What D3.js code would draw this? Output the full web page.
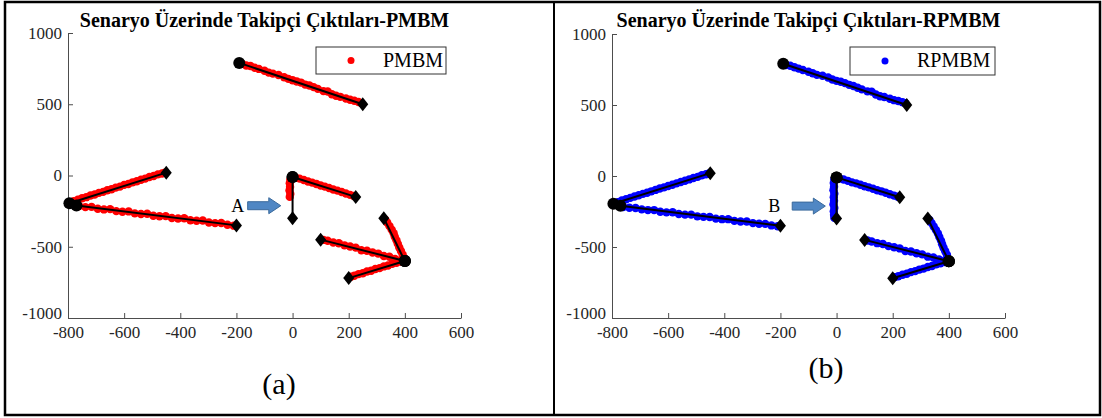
<!DOCTYPE html>
<html>
<head>
<meta charset="utf-8">
<script src="https://cdn.jsdelivr.net/npm/d3@7"></script>
<style>
  body { margin: 0; background: #fff; }
  svg text { font-family: "Liberation Serif", "DejaVu Serif", "Times New Roman", serif !important; }
</style>
</head>
<body>
<script>
// ground truth tracks: [birth, death]
var truthTracks = [
  [[-190, 790], [250, 500]],
  [[-795, -195], [-450, 20]],
  [[-770, -210], [-200, -350]],
  [[0, -10], [225, -150]],
  [[0, -10], [0, -300]],
  [[400, -600], [325, -300]],
  [[400, -600], [100, -450]],
  [[400, -600], [200, -720]]
];

// PMBM estimates
var pmbmA = [[-180,785],[-165,772],[-150,768],[-135,756],[-120,748],[-100,735],[-85,722],[-70,715],[-50,705],[-30,690],[-15,678],[0,668],[15,660],[30,652],[45,638],[60,632],[75,620],[90,608],[110,592],[125,590],[140,570],[155,560],[170,552],[190,540],[205,532],[220,525],[235,516],[245,508]];
var pmbmB = [[-780,-180],[-765,-170],[-750,-160],[-735,-152],[-720,-140],[-705,-133],[-690,-122],[-675,-115],[-660,-104],[-645,-96],[-630,-85],[-615,-78],[-600,-66],[-585,-60],[-570,-48],[-555,-40],[-540,-30],[-525,-22],[-510,-10],[-495,-4],[-480,8],[-465,14],[-455,20]];
var pmbmC = [[-760,-215],[-738,-222],[-716,-220],[-694,-233],[-672,-238],[-650,-236],[-628,-250],[-606,-254],[-584,-252],[-562,-266],[-540,-270],[-518,-268],[-496,-282],[-474,-286],[-452,-285],[-430,-298],[-408,-302],[-386,-300],[-364,-314],[-342,-318],[-320,-316],[-298,-330],[-276,-334],[-254,-333],[-232,-346],[-210,-352]];
var pmbmD = [[10,-14],[25,-22],[40,-32],[55,-42],[70,-50],[85,-60],[100,-70],[115,-78],[130,-88],[145,-98],[160,-106],[175,-116],[190,-126],[205,-136],[218,-144]];
var pmbmE = [[-8,-30],[-10,-55],[-9,-80],[-11,-105],[-8,-130],[-10,-150]];
var pmbmF = [[398,-580],[392,-555],[386,-530],[380,-505],[375,-480],[370,-455],[364,-430],[360,-405],[353,-380],[345,-355],[337,-330],[330,-310]];
var pmbmG = [[385,-595],[365,-585],[345,-570],[325,-565],[305,-548],[285,-540],[265,-528],[245,-525],[225,-506],[205,-498],[185,-490],[165,-475],[145,-470],[125,-458],[110,-452]];
var pmbmH = [[385,-604],[370,-612],[355,-620],[340,-632],[325,-638],[310,-650],[295,-656],[280,-668],[265,-674],[250,-686],[235,-692],[220,-704],[208,-710]];

// RPMBM estimates
var rpmbmA = [[-180,782],[-165,776],[-150,766],[-135,756],[-120,746],[-100,734],[-85,724],[-70,712],[-50,706],[-30,694],[-15,680],[0,670],[15,664],[30,654],[45,642],[60,634],[75,622],[90,610],[110,596],[125,594],[140,574],[155,562],[170,556],[190,544],[205,534],[220,528],[235,520],[245,512]];
var rpmbmB = [[-780,-184],[-765,-172],[-750,-164],[-735,-154],[-720,-144],[-705,-136],[-690,-126],[-675,-118],[-660,-108],[-645,-98],[-630,-88],[-615,-80],[-600,-70],[-585,-62],[-570,-52],[-555,-42],[-540,-33],[-525,-24],[-510,-14],[-495,-6],[-480,5],[-465,12],[-455,18]];
var rpmbmC = [[-760,-218],[-738,-224],[-716,-225],[-694,-235],[-672,-240],[-650,-240],[-628,-252],[-606,-256],[-584,-255],[-562,-268],[-540,-272],[-518,-272],[-496,-284],[-474,-288],[-452,-289],[-430,-300],[-408,-304],[-386,-304],[-364,-316],[-342,-320],[-320,-320],[-298,-332],[-276,-336],[-254,-337],[-232,-348],[-210,-354]];
var rpmbmD = [[10,-18],[25,-25],[40,-34],[55,-45],[70,-52],[85,-62],[100,-72],[115,-80],[130,-90],[145,-100],[160,-108],[175,-118],[190,-128],[205,-138],[218,-146]];
var rpmbmE = [[-8,-25],[-10,-50],[-9,-75],[-11,-100],[-8,-125],[-10,-150],[-9,-175],[-11,-200],[-8,-225],[-10,-250],[-9,-275],[-8,-295]];
var rpmbmF = [[397,-580],[393,-555],[387,-530],[381,-505],[376,-480],[372,-455],[366,-430],[361,-405],[354,-380],[346,-355],[338,-330],[331,-310]];
var rpmbmG = [[385,-597],[365,-588],[345,-574],[325,-568],[305,-552],[285,-544],[265,-532],[245,-528],[225,-510],[205,-502],[185,-494],[165,-479],[145,-473],[125,-461],[110,-454]];
var rpmbmH = [[385,-606],[370,-614],[355,-622],[340,-634],[325,-641],[310,-652],[295,-659],[280,-670],[265,-677],[250,-688],[235,-695],[220,-706],[208,-712]];

var xTicks = [-800, -600, -400, -200, 0, 200, 400, 600];
var yTicks = [-1000, -500, 0, 500, 1000];

var serif = "'Liberation Serif', 'DejaVu Serif', serif";

var svg = d3.select("body").append("svg")
  .attr("width", 1102)
  .attr("height", 418)
  .attr("font-family", serif);

// outer frame + divider
svg.append("rect")
  .attr("x", 5).attr("y", 2).attr("width", 1095).attr("height", 413)
  .attr("fill", "none").attr("stroke", "#000").attr("stroke-width", 2.5);
svg.append("line")
  .attr("x1", 554).attr("x2", 554).attr("y1", 2).attr("y2", 415)
  .attr("stroke", "#000").attr("stroke-width", 2);

drawPanel({
  left: 68, right: 461, top: 33, bottom: 318,
  title: "Senaryo Üzerinde Takipçi Çıktıları-PMBM",
  name: "PMBM", color: "#ff0000",
  estimates: [pmbmA, pmbmB, pmbmC, pmbmD, pmbmE, pmbmF, pmbmG, pmbmH],
  legend: {x: 316, y: 47, w: 130, h: 27},
  note: "A", noteX: -195, arrowX0: -160, arrowX1: -42,
  caption: "(a)", capX: 279, capY: 394
});

drawPanel({
  left: 612, right: 1005, top: 34, bottom: 318,
  title: "Senaryo Üzerinde Takipçi Çıktıları-RPMBM",
  name: "RPMBM", color: "#0000ff",
  estimates: [rpmbmA, rpmbmB, rpmbmC, rpmbmD, rpmbmE, rpmbmF, rpmbmG, rpmbmH],
  legend: {x: 850, y: 47, w: 145, h: 28},
  note: "B", noteX: -222, arrowX0: -158, arrowX1: -40,
  caption: "(b)", capX: 826, capY: 378
});

function drawPanel(p) {
  var x = d3.scaleLinear().domain([-800, 600]).range([p.left, p.right]);
  var y = d3.scaleLinear().domain([-1000, 1000]).range([p.bottom, p.top]);
  var g = svg.append("g");

  // axes
  var xAxis = d3.axisBottom(x).tickValues(xTicks).tickSizeInner(-5).tickSizeOuter(0)
    .tickPadding(8).tickFormat(function(d){ return String(d); });
  var yAxis = d3.axisLeft(y).tickValues(yTicks).tickSizeInner(-5).tickSizeOuter(0)
    .tickPadding(6).tickFormat(function(d){ return String(d); });

  var gx = g.append("g").attr("transform", "translate(0," + p.bottom + ")").call(xAxis);
  var gy = g.append("g").attr("transform", "translate(" + p.left + ",0)").call(yAxis);
  [gx, gy].forEach(function(a){
    a.attr("font-family", serif).attr("font-size", 17);
    a.selectAll("path, line").attr("stroke", "#4d4d4d");
    a.selectAll("text").attr("fill", "#262626");
  });
  // lift the bottom y label a little so it clears the x labels
  gy.selectAll(".tick text").filter(function(d){ return d === -1000; }).attr("dy", "0.05em");

  // title
  g.append("text")
    .attr("x", (p.left + p.right) / 2).attr("y", 27)
    .attr("text-anchor", "middle")
    .attr("font-size", 20).attr("font-weight", "bold")
    .text(p.title);

  // estimates (dots)
  var pts = [];
  p.estimates.forEach(function(t){ t.forEach(function(d){ pts.push(d); }); });
  g.append("g").selectAll("circle")
    .data(pts)
    .enter().append("circle")
    .attr("cx", function(d){ return x(d[0]); })
    .attr("cy", function(d){ return y(d[1]); })
    .attr("r", 4.2)
    .attr("fill", p.color);

  // ground truth lines
  var line = d3.line().x(function(d){ return x(d[0]); }).y(function(d){ return y(d[1]); });
  g.append("g").selectAll("path")
    .data(truthTracks)
    .enter().append("path")
    .attr("d", line)
    .attr("stroke", "#000").attr("stroke-width", 2).attr("fill", "none");

  // births
  g.append("g").selectAll("circle")
    .data(truthTracks)
    .enter().append("circle")
    .attr("cx", function(d){ return x(d[0][0]); })
    .attr("cy", function(d){ return y(d[0][1]); })
    .attr("r", 6)
    .attr("fill", "#000");

  // deaths (diamonds)
  g.append("g").selectAll("path")
    .data(truthTracks)
    .enter().append("path")
    .attr("transform", function(d){ return "translate(" + x(d[1][0]) + "," + y(d[1][1]) + ")"; })
    .attr("d", "M0,-7L5.5,0L0,7L-5.5,0Z")
    .attr("fill", "#000");

  // arrow annotation
  var ay = y(-212);
  var ax0 = x(p.arrowX0), ax1 = x(p.arrowX1);
  var neck = ax1 - 12;
  g.append("path")
    .attr("d", "M" + ax0 + "," + (ay - 4) + "L" + neck + "," + (ay - 4) + "L" + neck + "," + (ay - 8) +
      "L" + ax1 + "," + ay + "L" + neck + "," + (ay + 8) + "L" + neck + "," + (ay + 4) +
      "L" + ax0 + "," + (ay + 4) + "Z")
    .attr("fill", "#5087c4").attr("stroke", "#3b6a9c").attr("stroke-width", 1);
  g.append("text")
    .attr("x", x(p.noteX)).attr("y", ay + 6)
    .attr("text-anchor", "middle")
    .attr("font-size", 18)
    .text(p.note);

  // legend
  var lg = svg.append("g").attr("transform", "translate(" + p.legend.x + "," + p.legend.y + ")");
  lg.append("rect")
    .attr("width", p.legend.w).attr("height", p.legend.h)
    .attr("fill", "#fff").attr("stroke", "#333").attr("stroke-width", 1);
  lg.append("circle").attr("cx", 35).attr("cy", p.legend.h / 2).attr("r", 3.5).attr("fill", p.color);
  lg.append("text")
    .attr("x", 67).attr("y", p.legend.h / 2 + 6)
    .attr("font-size", 20)
    .text(p.name);

  // caption
  svg.append("text")
    .attr("x", p.capX).attr("y", p.capY)
    .attr("text-anchor", "middle")
    .attr("font-size", 30)
    .text(p.caption);
}
</script>
</body>
</html>
